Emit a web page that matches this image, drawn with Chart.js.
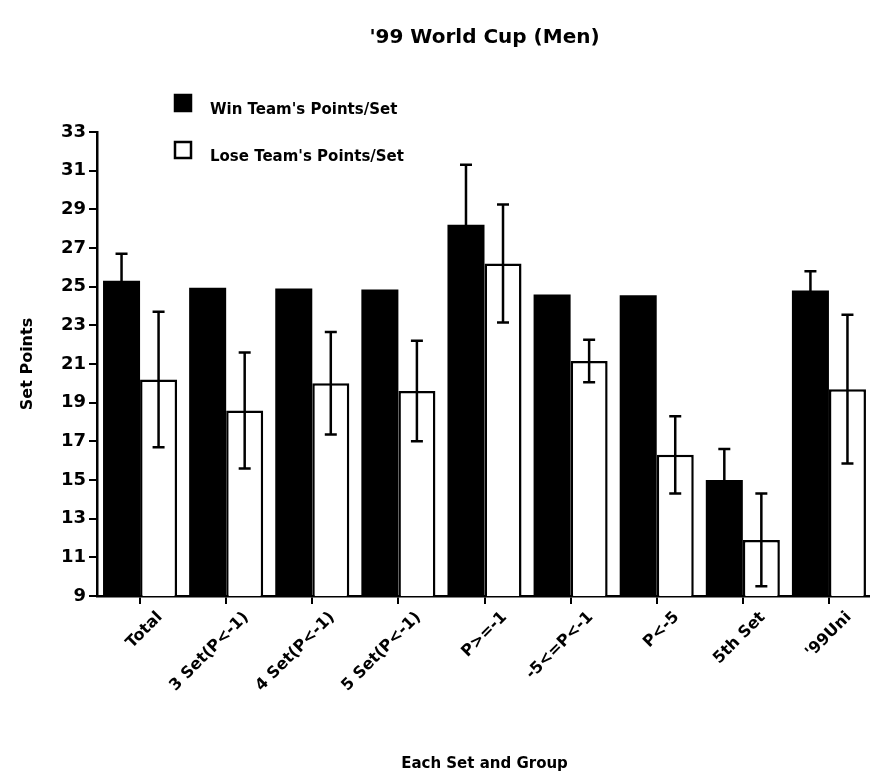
<!DOCTYPE html>
<html>
<head>
<meta charset="utf-8">
<script src="https://cdn.jsdelivr.net/npm/chart.js@4.4.0/dist/chart.umd.min.js"></script>
<style>
  html, body { margin: 0; padding: 0; background: #fff; overflow: hidden; }
  canvas { display: block; }
</style>
</head>
<body>
<canvas id="chart" width="872" height="778"></canvas>
<script>
const categories = ["Total", "3 Set(P<-1)", "4 Set(P<-1)", "5 Set(P<-1)", "P>=-1", "-5<=P<-1", "P<-5", "5th Set", "'99Uni"];
const winPoints = [25.3, 24.95, 24.9, 24.85, 28.2, 24.6, 24.55, 15.0, 24.8];
const winErr = [1.4, 0, 0, 0, 3.1, 0, 0, 1.6, 1.0];
const losePoints = [20.2, 18.6, 20.0, 19.6, 26.2, 21.15, 16.3, 11.9, 19.7];
const loseErr = [3.5, 3.0, 2.65, 2.6, 3.05, 1.1, 2.0, 2.4, 3.85];
const yMin = 9, yMax = 33, yStep = 2;

const font = "'DejaVu Sans', sans-serif";

// error bars drawn on top of the bars
const errorBars = {
  id: 'errorBars',
  afterDatasetsDraw(chart) {
    const ctx = chart.ctx;
    const y = chart.scales.y;
    chart.data.datasets.forEach((ds, i) => {
      const meta = chart.getDatasetMeta(i);
      meta.data.forEach((bar, j) => {
        const e = ds.errors[j];
        if (!e) return;
        const v = ds.data[j];
        const top = y.getPixelForValue(v + e);
        const bot = y.getPixelForValue(v - e);
        ctx.save();
        ctx.strokeStyle = '#000';
        ctx.lineWidth = 2.5;
        ctx.beginPath();
        ctx.moveTo(bar.x, top); ctx.lineTo(bar.x, bot);
        ctx.moveTo(bar.x - 6, top); ctx.lineTo(bar.x + 6, top);
        ctx.moveTo(bar.x - 6, bot); ctx.lineTo(bar.x + 6, bot);
        ctx.stroke();
        ctx.restore();
      });
    });
  }
};

// legend boxes at the upper left, like the original
const boxLegend = {
  id: 'boxLegend',
  afterDraw(chart) {
    const ctx = chart.ctx;
    const rows = [{ y: 103, ty: 110 }, { y: 150, ty: 157 }];
    chart.data.datasets.forEach((ds, i) => {
      const r = rows[i];
      ctx.save();
      ctx.fillStyle = ds.backgroundColor;
      ctx.strokeStyle = '#000';
      ctx.lineWidth = 2.5;
      ctx.fillRect(175, r.y - 8, 16, 16);
      ctx.strokeRect(175, r.y - 8, 16, 16);
      ctx.fillStyle = '#000';
      ctx.font = 'bold 15px ' + font;
      ctx.textBaseline = 'middle';
      ctx.fillText(ds.label, 210, r.ty);
      ctx.restore();
    });
  }
};

new Chart(document.getElementById('chart'), {
  type: 'bar',
  data: {
    labels: categories,
    datasets: [
      {
        label: "Win Team's Points/Set",
        data: winPoints,
        errors: winErr,
        backgroundColor: '#000',
        borderColor: '#000',
        borderWidth: 0,
        categoryPercentage: 0.86,
        barPercentage: 1.0
      },
      {
        label: "Lose Team's Points/Set",
        data: losePoints,
        errors: loseErr,
        backgroundColor: '#fff',
        borderColor: '#000',
        borderWidth: 2.5,
        categoryPercentage: 0.86,
        barPercentage: 1.0
      }
    ]
  },
  options: {
    responsive: false,
    animation: false,
    devicePixelRatio: 1,
    layout: { padding: { left: 0, right: 0, top: 0, bottom: 0 } },
    plugins: {
      legend: { display: false },
      tooltip: { enabled: false },
      title: {
        display: true,
        fullSize: false,
        text: "'99 World Cup (Men)",
        color: '#000',
        font: { family: font, size: 20, weight: 'bold' },
        padding: { top: 26, bottom: 82 }
      }
    },
    scales: {
      x: {
        afterFit(scale) { scale.height = 182; },
        grid: { display: true, drawOnChartArea: false, drawTicks: true, tickLength: 8, color: '#000', lineWidth: 2, offset: false },
        border: { display: true, color: '#000', width: 2.5 },
        ticks: {
          color: '#000',
          font: { family: font, size: 16, weight: 'bold' },
          maxRotation: 45,
          minRotation: 45,
          labelOffset: 20,
          padding: 4,
          autoSkip: false
        },
        title: {
          display: true,
          text: 'Each Set and Group',
          color: '#000',
          font: { family: font, size: 15, weight: 'bold' },
          padding: { top: 0, bottom: 5 }
        }
      },
      y: {
        min: yMin,
        max: yMax,
        afterFit(scale) { scale.width = 97; },
        grid: { display: true, drawOnChartArea: false, drawTicks: true, tickLength: 8, color: '#000', lineWidth: 2 },
        border: { display: true, color: '#000', width: 2.5 },
        ticks: {
          stepSize: yStep,
          color: '#000',
          font: { family: font, size: 18, weight: 'bold' },
          padding: 3
        },
        title: {
          display: true,
          text: 'Set Points',
          color: '#000',
          font: { family: font, size: 16, weight: 'bold' },
          padding: { top: 18, bottom: 0 }
        }
      }
    }
  },
  plugins: [errorBars, boxLegend]
});
</script>
</body>
</html>
